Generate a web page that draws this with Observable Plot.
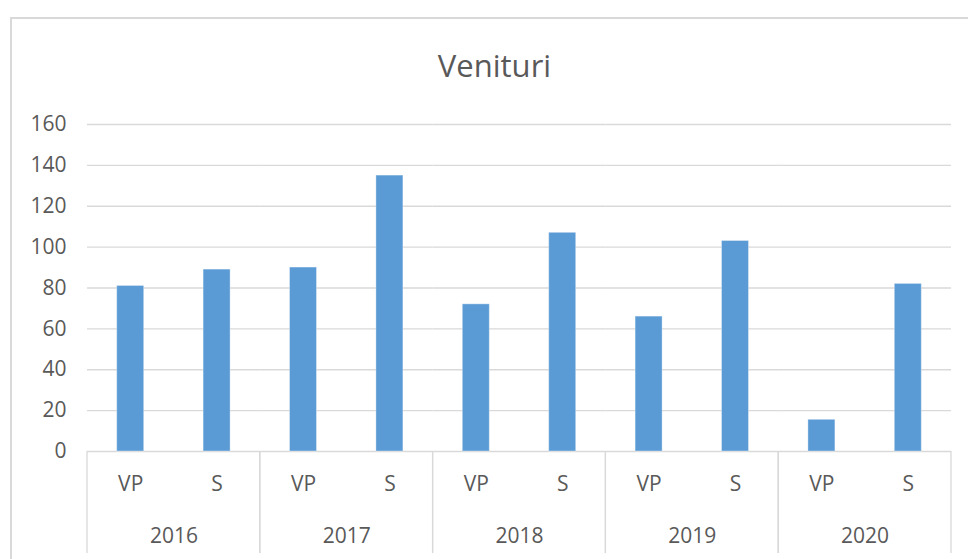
<!DOCTYPE html>
<html><head><meta charset="utf-8">
<script src="https://cdn.jsdelivr.net/npm/d3@7"></script>
<script src="https://cdn.jsdelivr.net/npm/@observablehq/plot@0.6"></script>
<style>
html,body{margin:0;padding:0;background:#fff;overflow:hidden;}
#wrap{position:relative;width:968px;height:559px;overflow:hidden;font-family:"Open Sans",sans-serif;}
#border{position:absolute;left:10px;top:17px;width:1000px;height:600px;border:2px solid #d9d9d9;box-sizing:border-box;}
#title{position:absolute;left:21px;right:0;top:50px;text-align:center;font-size:31px;line-height:31px;color:#595959;}
#chart{position:absolute;left:0;top:0;}
</style></head><body>
<div id="wrap"><div id="chart"></div><div id="border"></div><div id="title"></div></div>
<script>
const title = "Venituri";
const years = ["2016","2017","2018","2019","2020"];
const types = ["VP","S"];
const vpValues = [81,90,72,66,15.5];
const sValues = [89,135,107,103,82];
const yTicks = [0,20,40,60,80,100,120,140,160];

const data = years.flatMap((year, i) => [
  {year, type: types[0], value: vpValues[i]},
  {year, type: types[1], value: sValues[i]}
]);

function separators(index, scales, values, dimensions) {
  const g = d3.create("svg:g");
  const [x0, x1] = scales.x.range();
  const y0 = scales.y(0);
  for (const x of [x0, x1]) {
    g.append("line").attr("x1", x).attr("x2", x).attr("y1", y0).attr("y2", dimensions.height)
      .attr("stroke", "#d9d9d9").attr("stroke-width", 1.3);
  }
  return g.node();
}

const chart = Plot.plot({
  width: 968, height: 553,
  marginLeft: 87, marginRight: 17, marginTop: 124, marginBottom: 102,
  style: {fontFamily: '"Open Sans", sans-serif', color: "#595959", background: "transparent"},
  fx: {domain: years, padding: 0, round: false, label: null},
  x: {domain: types, paddingInner: 0.6875, paddingOuter: 0.34375, round: false, label: null},
  y: {domain: [0, 160], label: null},
  marks: [
    Plot.gridY(yTicks.slice(1), {stroke: "#d9d9d9", strokeOpacity: 1, strokeWidth: 1.3}),
    Plot.ruleY([0], {stroke: "#d9d9d9", strokeWidth: 1.3}),
    separators,
    Plot.barY(data, {fx: "year", x: "type", y: "value", fill: "#5B9BD5", stroke: "#ffffff", strokeOpacity: 0.35, strokeWidth: 1}),
    Plot.axisY(yTicks, {tickSize: 0, tickPadding: 21, fontSize: 21, label: null}),
    Plot.axisX({tickSize: 0, tickPadding: 25, fontSize: 21, label: null}),
    Plot.axisFx({anchor: "bottom", tickSize: 0, tickPadding: 77, fontSize: 21, label: null})
  ]
});
document.getElementById("chart").append(chart);
document.getElementById("title").textContent = title;
</script>
</body></html>
